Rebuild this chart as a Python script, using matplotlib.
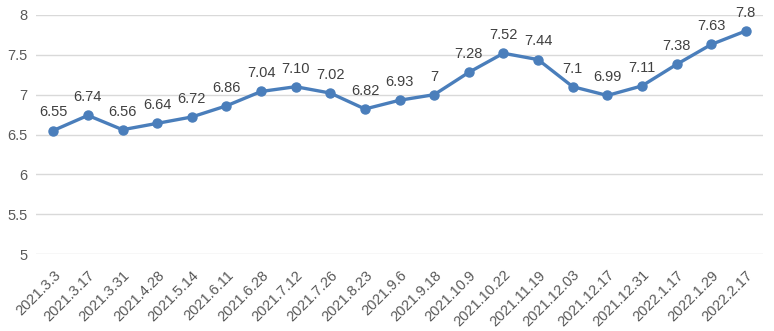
import matplotlib.pyplot as plt

# survey dates and index values
dates = ["2021.3.3", "2021.3.17", "2021.3.31", "2021.4.28", "2021.5.14",
         "2021.6.11", "2021.6.28", "2021.7.12", "2021.7.26", "2021.8.23",
         "2021.9.6", "2021.9.18", "2021.10.9", "2021.10.22", "2021.11.19",
         "2021.12.03", "2021.12.17", "2021.12.31", "2022.1.17", "2022.1.29",
         "2022.2.17"]
values = [6.55, 6.74, 6.56, 6.64, 6.72, 6.86, 7.04, 7.10, 7.02, 6.82,
          6.93, 7, 7.28, 7.52, 7.44, 7.1, 6.99, 7.11, 7.38, 7.63, 7.8]
value_labels = ["6.55", "6.74", "6.56", "6.64", "6.72", "6.86", "7.04",
                "7.10", "7.02", "6.82", "6.93", "7", "7.28", "7.52", "7.44",
                "7.1", "6.99", "7.11", "7.38", "7.63", "7.8"]
yticks = [5, 5.5, 6, 6.5, 7, 7.5, 8]

plt.rcParams['font.family'] = ['Liberation Sans', 'DejaVu Sans']
text_color = "#595959"
line_color = "#4a7ebb"

fig = plt.figure(figsize=(7.74, 3.31), dpi=100)
ax = fig.add_axes([0.0465, 0.2326, 0.9395, 0.7221])

x = list(range(len(dates)))
ax.plot(x, values, color=line_color, lw=2.4, marker="o", ms=6.5,
        solid_joinstyle="round", zorder=3)

# value labels above each point
for xi, v, lab in zip(x, values, value_labels):
    ax.annotate(lab, (xi, v), xytext=(0, 8), textcoords="offset points",
                ha="center", va="bottom", fontsize=10.5, color="#404040")

ax.set_xlim(-0.5, len(dates) - 0.5)
ax.set_ylim(5, 8)
ax.set_yticks(yticks)
ax.set_yticklabels([f"{t:g}" for t in yticks])
ax.set_xticks(x)
ax.set_xticklabels(dates, rotation=45, ha="right", rotation_mode="anchor")

ax.grid(axis="y", color="#d9d9d9", lw=1)
ax.set_axisbelow(True)
for s in ax.spines.values():
    s.set_visible(False)
ax.tick_params(axis="both", length=0, colors=text_color, labelsize=10.5)
ax.tick_params(axis="y", pad=6)
ax.tick_params(axis="x", pad=10)

fig.savefig("out.png", dpi=100)
